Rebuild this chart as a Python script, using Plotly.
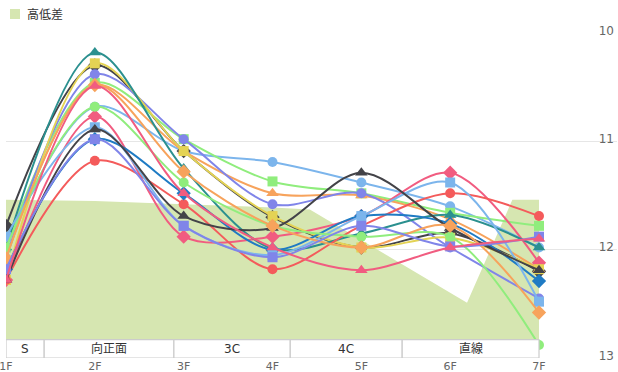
import plotly.graph_objects as go

# ---- data ----
furlongs = ["1F", "2F", "3F", "4F", "5F", "6F", "7F"]
furlong_pos = [0, 1, 2, 3, 4, 5, 6]

# elevation profile (高低差) : x in furlong units, y in axis units
area_x = [0, 1, 2, 3, 3.42, 5.19, 5.70, 6]
area_y = [11.54, 11.55, 11.58, 11.61, 11.63, 12.49, 11.54, 11.54]
area_base = 13

# course sections
section_labels = ["S", "向正面", "3C", "4C", "直線"]
section_edges = [0, 0.43, 1.89, 3.2, 4.46, 6.0]
section_top = 12.83

s00 = [11.98, 10.68, 11.09, 11.19, 11.38, 11.60, 11.98]
s01 = [11.78, 10.30, 11.09, 11.70, 11.98, 11.85, 12.20]
s02 = [11.98, 10.46, 10.98, 11.37, 11.48, 11.66, 11.78]
s03 = [12.08, 10.48, 11.09, 11.48, 11.50, 11.72, 12.18]
s04 = [12.08, 10.38, 10.98, 11.58, 11.48, 11.98, 12.45]
s05 = [12.28, 10.77, 11.88, 11.88, 11.69, 11.29, 12.12]
s06 = [12.28, 10.28, 11.09, 11.69, 11.98, 11.89, 12.18]
s07 = [11.98, 10.18, 11.25, 11.99, 11.85, 11.68, 11.98]
s08 = [12.28, 11.18, 11.58, 12.18, 11.78, 11.48, 11.69]
s09 = [12.18, 10.98, 11.48, 12.00, 11.69, 11.76, 12.29]
s10 = [11.88, 10.87, 11.78, 12.05, 11.69, 11.38, 12.48]
s11 = [12.28, 10.89, 11.69, 11.80, 11.29, 11.80, 12.19]
s12 = [11.98, 10.68, 11.38, 11.78, 11.88, 11.88, 12.88]
s13 = [12.08, 10.48, 11.28, 11.78, 11.98, 11.78, 12.58]
s14 = [12.18, 10.98, 11.78, 12.07, 11.78, 11.97, 11.88]
s15 = [12.28, 10.49, 11.48, 11.98, 12.19, 11.98, 11.90]
series = [s00, s01, s02, s03, s04, s05, s06, s07, s08, s09, s10, s11, s12, s13, s14, s15]

y_ticks = [10, 11, 12, 13]
legend_label = "高低差"

palette = ["#7cb5ec", "#434348", "#90ed7d", "#f7a35c", "#8085e9",
           "#f15c80", "#e4d354", "#2b908f", "#f45b5b", "#1f7bc4"]
symbols = ["circle", "diamond", "square", "triangle-up"]
sym_size = {"circle": 10, "diamond": 11, "square": 10, "triangle-up": 11}

FONT = "DejaVu Sans, Noto Sans CJK JP, sans-serif"
AREA_COLOR = "#d6e6b1"

W, H = 618, 372
ML, MR, MT, MB = 6, 1, 33, 14
PW, PH = W - ML - MR, H - MT - MB


def px_to_paper_x(px):
    return (px - ML) / PW


def px_to_paper_y(py):
    return (H - MB - py) / PH


fig = go.Figure()

# baseline + area
fig.add_trace(go.Scatter(x=[area_x[0], area_x[-1]], y=[area_base, area_base],
                         mode="lines", line=dict(width=0), showlegend=False,
                         hoverinfo="skip"))
fig.add_trace(go.Scatter(x=area_x, y=area_y, mode="lines", name=legend_label,
                         line=dict(width=0, color=AREA_COLOR), fill="tonexty",
                         fillcolor=AREA_COLOR, showlegend=False))

for i, vals in enumerate(series):
    c = palette[i % len(palette)]
    s = symbols[i % len(symbols)]
    fig.add_trace(go.Scatter(
        x=furlong_pos, y=vals, mode="lines+markers", showlegend=False,
        line=dict(color=c, width=2, shape="spline", smoothing=0.9),
        marker=dict(symbol=s, size=sym_size[s], color=c, line=dict(width=0)),
    ))

shapes = []
annotations = []
for j, lab in enumerate(section_labels):
    x0, x1 = section_edges[j], section_edges[j + 1]
    shapes.append(dict(type="rect", xref="x", yref="y", x0=x0, x1=x1,
                       y0=section_top, y1=13, fillcolor="white",
                       line=dict(color="#cccccc", width=1.2), layer="above"))
    annotations.append(dict(x=(x0 + x1) / 2, y=(section_top + 13) / 2,
                            xref="x", yref="y", text=lab, showarrow=False,
                            font=dict(family=FONT, size=12, color="#333333")))

# legend (swatch + label) drawn to match the reference's compact legend
shapes.append(dict(type="rect", xref="paper", yref="paper",
                   x0=px_to_paper_x(10), x1=px_to_paper_x(20),
                   y0=px_to_paper_y(19), y1=px_to_paper_y(9),
                   fillcolor=AREA_COLOR, line=dict(width=0)))
annotations.append(dict(x=px_to_paper_x(25), y=px_to_paper_y(14.5),
                        xref="paper", yref="paper", xanchor="left",
                        yanchor="middle", text=legend_label, showarrow=False,
                        font=dict(family=FONT, size=12, color="#333333")))

fig.update_layout(
    width=W, height=H,
    margin=dict(l=ML, r=MR, t=MT, b=MB, autoexpand=False),
    paper_bgcolor="white", plot_bgcolor="white",
    font=dict(family=FONT, size=12, color="#666666"),
    showlegend=False,
    xaxis=dict(range=[0, 6.878], tickvals=furlong_pos, ticktext=furlongs,
               showgrid=False, zeroline=False, showline=False, ticks="",
               ticklabeloverflow="allow", ticklabelstandoff=0,
               automargin=False,
               tickfont=dict(size=11, color="#666666")),
    yaxis=dict(range=[13, 10], side="right", tickvals=y_ticks,
               ticktext=[str(v) for v in y_ticks],
               ticklabelposition="inside top", ticklabeloverflow="allow",
               ticklabelshift=-6, automargin=False,
               showgrid=True, gridcolor="#e6e6e6", gridwidth=1, zeroline=False,
               showline=False, ticks="", tickfont=dict(size=12, color="#666666")),
    shapes=shapes, annotations=annotations,
)

fig.write_html("out.html", config={"displayModeBar": False},
               post_script="document.body.style.margin='0';")
